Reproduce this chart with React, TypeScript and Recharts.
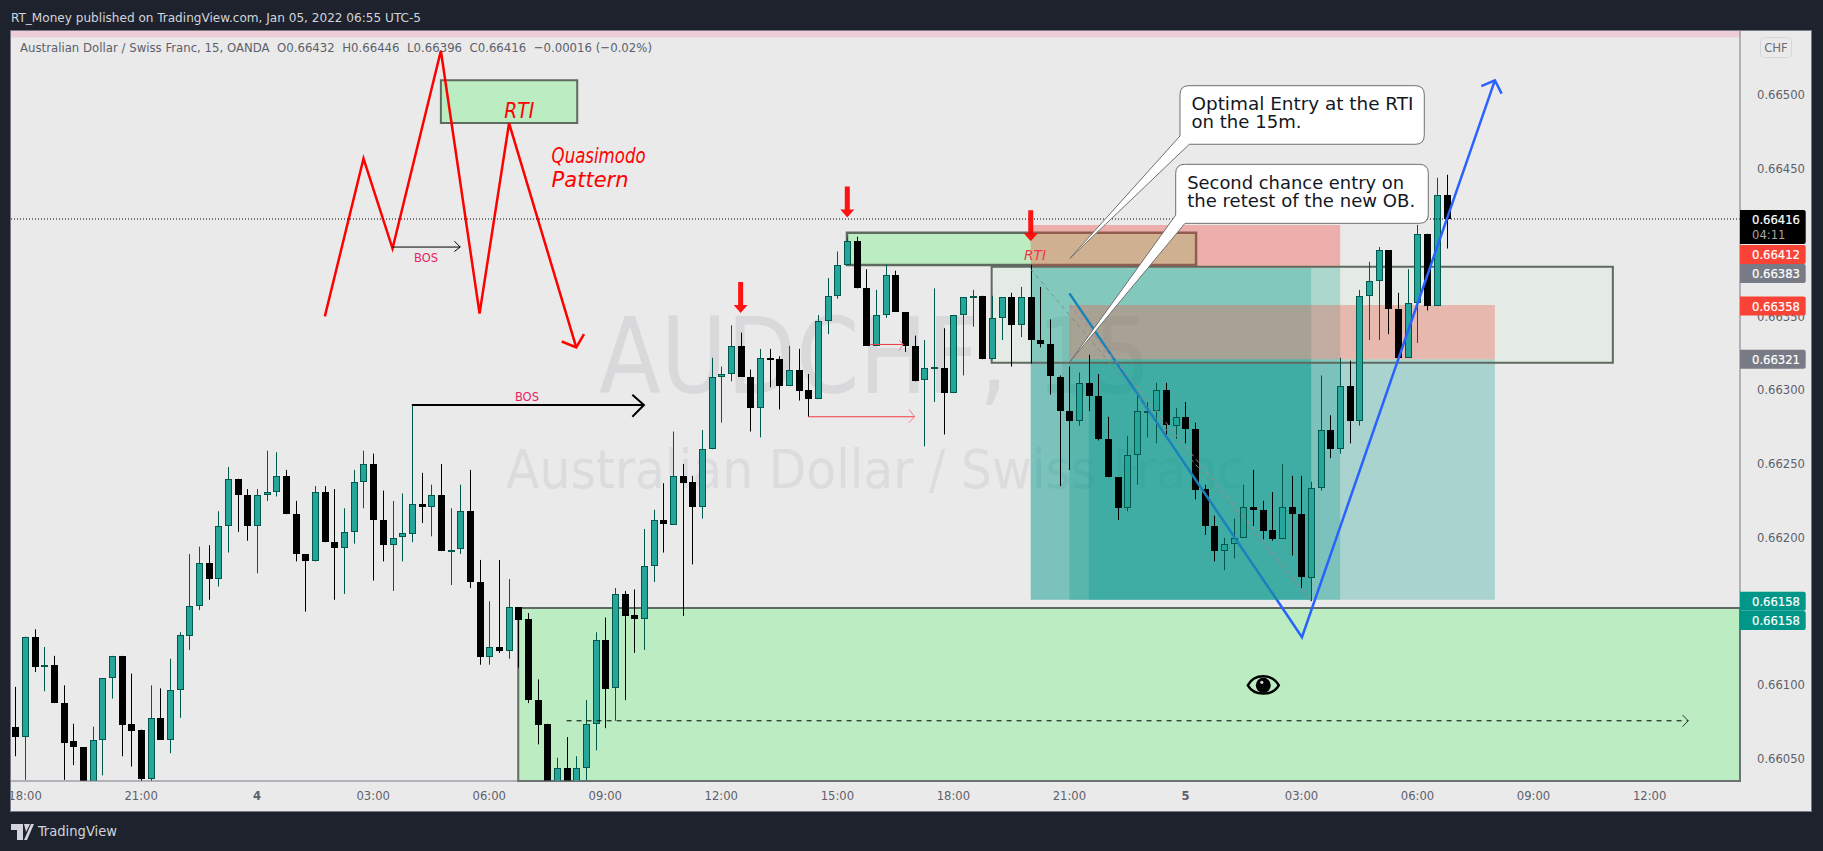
import { Bar, ComposedChart, Line, ReferenceArea, ReferenceDot, ReferenceLine, XAxis, YAxis } from 'recharts';

// prices are in pipettes: 66432 reads 0.66432 on the axis
const opens = [
  66072, 66065, 66133, 66113, 66114, 66088, 66062, 66058, 66030, 66063, 66105, 66120, 66074, 66070, 66037,
  66078, 66063, 66097, 66134, 66154, 66183, 66172, 66208, 66240, 66229, 66208, 66229, 66231, 66242, 66216,
  66189, 66184, 66231, 66197, 66193, 66204, 66238, 66250, 66212, 66195, 66200, 66203, 66223, 66221, 66229,
  66191, 66192, 66218, 66170, 66119, 66126, 66123, 66153, 66145, 66090, 66074, 66030, 66044, 66030, 66044,
  66074, 66131, 66098, 66162, 66148, 66145, 66181, 66212, 66209, 66242, 66238, 66221, 66260, 66309, 66311,
  66330, 66309, 66288, 66322, 66321, 66303, 66314, 66300, 66294, 66347, 66364, 66385, 66401, 66369, 66330,
  66351, 66378, 66353, 66330, 66307, 66315, 66315, 66298, 66351, 66363, 66364, 66321, 66349, 66363, 66344,
  66363, 66334, 66331, 66309, 66286, 66279, 66305, 66296, 66267, 66241, 66220, 66256, 66286, 66286, 66300,
  66276, 66282, 66274, 66233, 66208, 66191, 66196, 66200, 66221, 66219, 66205, 66199, 66221, 66216, 66173,
  66234, 66273, 66260, 66303, 66279, 66364, 66374, 66395, 66355, 66322, 66359, 66406, 66357, 66432,
];
const highs = [
  66099, 66133, 66138, 66126, 66120, 66100, 66074, 66058, 66072, 66105, 66120, 66120, 66108, 66070, 66100,
  66098, 66118, 66136, 66189, 66194, 66195, 66218, 66248, 66240, 66233, 66233, 66259, 66258, 66246, 66225,
  66189, 66235, 66235, 66233, 66220, 66246, 66259, 66257, 66232, 66225, 66230, 66290, 66244, 66236, 66250,
  66220, 66236, 66246, 66185, 66157, 66185, 66172, 66153, 66149, 66104, 66074, 66051, 66065, 66052, 66090,
  66136, 66146, 66166, 66164, 66165, 66206, 66219, 66237, 66272, 66250, 66242, 66273, 66322, 66316, 66344,
  66339, 66314, 66328, 66328, 66323, 66330, 66328, 66311, 66351, 66376, 66394, 66404, 66404, 66382, 66368,
  66385, 66381, 66353, 66337, 66334, 66369, 66342, 66351, 66363, 66368, 66364, 66364, 66363, 66366, 66370,
  66385, 66370, 66348, 66310, 66316, 66312, 66324, 66311, 66282, 66241, 66269, 66296, 66292, 66305, 66305,
  66288, 66292, 66278, 66236, 66215, 66200, 66213, 66236, 66246, 66225, 66231, 66250, 66242, 66242, 66238,
  66310, 66283, 66322, 66320, 66368, 66387, 66397, 66395, 66366, 66382, 66412, 66406, 66444, 66446,
];
const lows = [
  66052, 66036, 66109, 66096, 66088, 66036, 66046, 66025, 66026, 66039, 66091, 66052, 66045, 66035, 66035,
  66063, 66054, 66078, 66124, 66151, 66158, 66167, 66190, 66204, 66198, 66176, 66225, 66228, 66216, 66184,
  66150, 66184, 66197, 66158, 66162, 66196, 66220, 66171, 66184, 66164, 66184, 66197, 66210, 66201, 66191,
  66168, 66189, 66166, 66114, 66114, 66122, 66118, 66112, 66088, 66060, 66025, 66025, 66026, 66025, 66030,
  66056, 66071, 66076, 66090, 66122, 66124, 66170, 66190, 66209, 66147, 66182, 66213, 66260, 66278, 66306,
  66309, 66272, 66268, 66302, 66287, 66303, 66293, 66282, 66294, 66338, 66362, 66385, 66369, 66330, 66330,
  66349, 66353, 66326, 66306, 66262, 66292, 66270, 66298, 66310, 66343, 66321, 66321, 66334, 66316, 66336,
  66318, 66329, 66297, 66235, 66246, 66276, 66286, 66266, 66241, 66212, 66218, 66236, 66268, 66264, 66270,
  66267, 66264, 66226, 66202, 66184, 66178, 66186, 66200, 66208, 66199, 66198, 66199, 66188, 66166, 66157,
  66232, 66254, 66257, 66264, 66276, 66334, 66334, 66338, 66320, 66322, 66332, 66354, 66357, 66396,
];
const closes = [
  66065, 66133, 66113, 66114, 66088, 66061, 66058, 66030, 66063, 66105, 66120, 66073, 66069, 66037, 66078,
  66063, 66097, 66134, 66154, 66183, 66172, 66208, 66240, 66229, 66208, 66229, 66231, 66242, 66216, 66189,
  66184, 66231, 66197, 66193, 66204, 66238, 66250, 66212, 66195, 66200, 66203, 66223, 66221, 66229, 66191,
  66192, 66218, 66170, 66119, 66126, 66123, 66153, 66144, 66090, 66073, 66030, 66044, 66030, 66044, 66074,
  66131, 66098, 66162, 66147, 66145, 66181, 66212, 66209, 66242, 66237, 66221, 66260, 66309, 66311, 66330,
  66309, 66288, 66322, 66321, 66303, 66314, 66300, 66294, 66347, 66364, 66385, 66401, 66369, 66330, 66351,
  66378, 66353, 66330, 66306, 66315, 66316, 66298, 66351, 66363, 66364, 66321, 66349, 66363, 66344, 66363,
  66334, 66331, 66309, 66286, 66279, 66305, 66296, 66267, 66241, 66220, 66256, 66286, 66286, 66300, 66276,
  66282, 66274, 66233, 66208, 66191, 66196, 66200, 66221, 66219, 66205, 66199, 66221, 66216, 66173, 66234,
  66273, 66260, 66303, 66279, 66364, 66374, 66395, 66355, 66322, 66359, 66406, 66357, 66432, 66416,
];
const candles = opens.map((open, i) => ({
  t: i,
  open,
  high: highs[i],
  low: lows[i],
  close: closes[i],
  range: [lows[i], highs[i]],
}));

const timeTicks = [1, 13, 25, 37, 49, 61, 73, 85, 97, 109, 121, 133, 145, 157, 169];
const timeLabels = ['18:00', '21:00', '4', '03:00', '06:00', '09:00', '12:00', '15:00', '18:00', '21:00', '5', '03:00', '06:00', '09:00', '12:00'];
const priceTicks = [66050, 66100, 66200, 66250, 66300, 66350, 66450, 66500];

const T_MIN = -0.56;
const T_MAX = 178.35;
const P_MIN = 66035.2;
const P_MAX = 66543.4;

const FONT = '"DejaVu Sans", sans-serif';
const COND = '"DejaVu Sans Condensed", "DejaVu Sans", sans-serif';
const TEAL = 'rgba(0,150,136,0.28)';
const RED_ZONE = 'rgba(244,67,54,0.35)';
const RED = '#ff0000';
const BOX = '#5f6a60';
const ZONE_GREEN = '#bcedc2';

// zones, as [t1, t2, p1, p2]
const tealZones = [
  [105, 137, 66158, 66382.8],
  [105, 134, 66158, 66382.8],
  [109, 153, 66158, 66321],
  [111, 134, 66158, 66321],
];
const redZones = [
  [105, 137, 66382.8, 66411.9],
  [109, 153, 66321, 66357.7],
];

// drawn polylines, as [t, price] pairs
const drawings = [
  { id: 'quasimodo', color: RED, width: 2.5, points: [[32, 66350], [36, 66457], [39, 66396], [44, 66530], [48, 66352], [51.05, 66481], [58, 66329]] },
  { id: 'quasimodoHead', color: RED, width: 2.5, points: [[56.5, 66333], [58, 66329], [58.8, 66338]] },
  { id: 'bosSmall', color: '#000000', width: 1, points: [[39, 66397], [46, 66397]] },
  { id: 'bosSmallHead', color: '#000000', width: 1, points: [[45.4, 66401], [46, 66397], [45.4, 66394]] },
  { id: 'bosLarge', color: '#000000', width: 2, points: [[41, 66290], [65, 66290]] },
  { id: 'bosLargeHead', color: '#000000', width: 2, points: [[63.8, 66297], [65, 66290], [63.8, 66282]] },
  { id: 'lowerRed', color: '#f23645', width: 1, points: [[82, 66282], [93, 66282]] },
  { id: 'lowerRedHead', color: '#f77c80', width: 1, points: [[92.4, 66287], [93, 66282], [92.4, 66278]] },
  { id: 'upperRed', color: '#f23645', width: 1, points: [[88.4, 66331], [91.8, 66331]] },
  { id: 'upperRedHead', color: '#f77c80', width: 1, points: [[91.4, 66334], [91.8, 66331], [91.4, 66327]] },
  { id: 'target', color: '#000000', width: 1, dash: '5 5', points: [[57, 66076], [173, 66076]] },
  { id: 'targetHead', color: '#333333', width: 1, points: [[172.4, 66080], [173, 66076], [172.4, 66072]] },
  { id: 'forecastFall', color: '#1a82bb', width: 2.5, points: [[109, 66365.6], [130.45, 66158]] },
  { id: 'forecast', color: '#2962ff', width: 2.5, points: [[130.45, 66158], [133.05, 66132.6], [153, 66510]] },
  { id: 'forecastHead', color: '#2962ff', width: 2.5, points: [[151.6, 66506], [153, 66510], [153.7, 66501]] },
  { id: 'diagonalGrey', color: '#6f8f8b', width: 1, dash: '4 4', points: [[105, 66382], [134, 66157]] },
  { id: 'diagonalRed', color: '#b5808a', width: 1, dash: '4 4', points: [[109, 66358], [134, 66158]] },
];

const lineData = (points: number[][]) => points.map(([t, p]) => ({ t, p }));

// tag position on the axis, and the text it shows
const priceTags = [
  { p: 66392, text: '0.66412', fill: '#f94336' },
  { p: 66379, text: '0.66383', fill: '#787b86' },
  { p: 66357, text: '0.66358', fill: '#f94336' },
  { p: 66321, text: '0.66321', fill: '#787b86' },
  { p: 66157, text: '0.66158', fill: '#009688' },
  { p: 66144, text: '0.66158', fill: '#009688' },
];

function Candle(props: any) {
  const { x, y, width, height, payload } = props;
  const up = payload.close >= payload.open;
  const span = payload.high - payload.low || 1;
  const perPoint = height / span;
  const top = y + (payload.high - Math.max(payload.open, payload.close)) * perPoint;
  const bottom = y + (payload.high - Math.min(payload.open, payload.close)) * perPoint;
  const cx = Math.round(x + width / 2);
  if (up) {
    return (
      <g>
        <rect x={cx} y={y} width={1} height={height} fill="#00574b" />
        <rect x={cx - 2.5} y={Math.round(top) + 0.5} width={6} height={Math.max(Math.round(bottom - top) - 1, 1)} fill="#26a69a" stroke="#00574b" strokeWidth={1} />
      </g>
    );
  }
  return (
    <g>
      <rect x={cx} y={y} width={1} height={height} fill="#000000" />
      <rect x={cx - 3} y={Math.round(top)} width={7} height={Math.max(Math.round(bottom - top), 2)} fill="#000000" />
    </g>
  );
}

function TimeTick(props: any) {
  const { x, y, payload } = props;
  const label = timeLabels[timeTicks.indexOf(payload.value)];
  const isDay = label.length === 1;
  return (
    <text x={x} y={y + 11} textAnchor="middle" fontFamily={FONT} fontSize={11.6} fontWeight={isDay ? 700 : 400} fill="#5d606b">
      {label}
    </text>
  );
}

const downArrow = (props: any) => (
  <path d={`M${props.cx - 2.5} ${props.cy - 31}h5v23h4.5l-7 8l-7 -8h4.5z`} fill="#ff0000" fillOpacity={0.92} />
);

const note = (text: string, size: number, color: string, length: number) => (props: any) => (
  <text x={props.cx} y={props.cy} textAnchor="start" fontFamily={COND} fontSize={size} fontStyle="italic" fill={color} textLength={length} lengthAdjust="spacingAndGlyphs">
    {text}
  </text>
);

const bosLabel = (props: any) => (
  <text x={props.cx} y={props.cy} textAnchor="middle" fontFamily={FONT} fontSize={11.5} fill="#e91e63">
    BOS
  </text>
);

const callout = (dx: number, dy: number, w: number, h: number, tailA: number, tailB: number, lines: string[], widths: number[]) => (props: any) => {
  const x = props.cx + dx;
  const y = props.cy + dy;
  const r = 9;
  const d = [
    `M${x + r} ${y}`,
    `H${x + w - r}`,
    `Q${x + w} ${y} ${x + w} ${y + r}`,
    `V${y + h - r}`,
    `Q${x + w} ${y + h} ${x + w - r} ${y + h}`,
    `H${x + tailB}`,
    `L${props.cx} ${props.cy}`,
    `L${x} ${y + tailA}`,
    `V${y + r}`,
    `Q${x} ${y} ${x + r} ${y}`,
    'Z',
  ].join(' ');
  return (
    <g>
      <path d={d} fill="#ffffff" stroke="#6f6f6f" strokeWidth={1} />
      {lines.map((line, i) => (
        <text key={line} x={x + 11.5} y={y + 24.5 + i * 18} fontFamily={FONT} fontSize={17} fill="#131722" textLength={widths[i]} lengthAdjust="spacingAndGlyphs">
          {line}
        </text>
      ))}
    </g>
  );
};

const eye = (props: any) => (
  <g transform={`translate(${props.cx} ${props.cy})`}>
    <path d="M-15.5 0C-9 -12 9 -12 15.5 0C9 11 -9 11 -15.5 0Z" fill="none" stroke="#000000" strokeWidth={2.5} />
    <circle r={7.5} fill="#000000" />
    <circle cx={-1.5} cy={-3} r={1.6} fill="#cfd8d0" />
  </g>
);

const priceTag = (text: string, fill: string) => (props: any) => (
  <g>
    <path d={`M${props.cx} ${props.cy - 9.5}h63.7a2 2 0 0 1 2 2v15a2 2 0 0 1 -2 2h-63.7z`} fill={fill} />
    <text x={props.cx + 12} y={props.cy + 4.5} fontFamily={FONT} fontSize={11.6} fontWeight={500} fill="#ffffff" stroke="#ffffff" strokeWidth={0.2}>
      {text}
    </text>
  </g>
);

const lastPriceTag = (props: any) => (
  <g>
    <path d={`M${props.cx} ${props.cy - 17}h63.7a2 2 0 0 1 2 2v30a2 2 0 0 1 -2 2h-63.7z`} fill="#000000" />
    <text x={props.cx + 12} y={props.cy - 3} fontFamily={FONT} fontSize={11.6} fill="#ffffff" stroke="#ffffff" strokeWidth={0.2}>
      0.66416
    </text>
    <text x={props.cx + 12} y={props.cy + 12.5} fontFamily={FONT} fontSize={11.6} fill="#a6a6a6">
      04:11
    </text>
  </g>
);

export default function App() {
  return (
    <div style={{ position: 'fixed', left: 0, top: 0, width: 1823, height: 851, background: '#1e222d', overflow: 'hidden' }}>
      <svg width={1823} height={851} style={{ position: 'absolute', left: 0, top: 0 }}>
        <rect x={10.5} y={30.5} width={1801} height={781} fill="#eaeaea" stroke="#787b86" />
        <text x={11} y={22} fontFamily={COND} fontSize={13} fill="#d1d4dc" textLength={410} lengthAdjust="spacingAndGlyphs">
          RT_Money published on TradingView.com, Jan 05, 2022 06:55 UTC-5
        </text>
        <text x={599} y={393} fontFamily={COND} fontSize={106} fill="#d9d9db" textLength={552} lengthAdjust="spacingAndGlyphs">
          AUDCHF, 15
        </text>
        <text x={506} y={488} fontFamily={COND} fontSize={54} fill="#dcdcde" textLength={738} lengthAdjust="spacingAndGlyphs">
          Australian Dollar / Swiss Franc
        </text>
        <text x={20} y={52} fontFamily={COND} fontSize={13} fill="#5d606b" textLength={632} lengthAdjust="spacing" xmlSpace="preserve">
          Australian Dollar / Swiss Franc, 15, OANDA  O0.66432  H0.66446  L0.66396  C0.66416  −0.00016 (−0.02%)
        </text>
      </svg>
      <div style={{ position: 'absolute', left: 0, top: 0 }}>
        <ComposedChart width={1823} height={851} data={candles} margin={{ top: 31, right: 12, bottom: 40, left: 10 }}>
          <XAxis
            dataKey="t"
            type="number"
            domain={[T_MIN, T_MAX]}
            ticks={timeTicks}
            tick={<TimeTick />}
            tickLine={false}
            axisLine={{ stroke: '#787b86' }}
            height={30}
            allowDataOverflow
            interval={0}
          />
          <YAxis
            orientation="right"
            type="number"
            domain={[P_MIN, P_MAX]}
            ticks={priceTicks}
            tickFormatter={(v: number) => (v / 100000).toFixed(5)}
            tick={{ fill: '#5d606b', fontFamily: FONT, fontSize: 11.6 }}
            tickLine={false}
            tickMargin={11}
            axisLine={{ stroke: '#787b86' }}
            width={71}
            allowDataOverflow
            interval={0}
          />

          <ReferenceArea x1={T_MIN} x2={T_MAX} y1={66539} y2={P_MAX} fill="#edcdd8" fillOpacity={1} stroke="none" />
          <ReferenceArea x1={44} x2={58.1} y1={66481} y2={66510} fill={ZONE_GREEN} fillOpacity={1} stroke={BOX} strokeWidth={2} />
          <ReferenceArea x1={52} x2={T_MAX} y1={P_MIN} y2={66152.4} fill={ZONE_GREEN} fillOpacity={1} stroke={BOX} strokeWidth={2} />
          <ReferenceArea x1={86} x2={122.1} y1={66384.8} y2={66406.7} fill={ZONE_GREEN} fillOpacity={1} stroke={BOX} strokeWidth={2.5} />
          {tealZones.map(([t1, t2, p1, p2], i) => (
            <ReferenceArea key={`teal${i}`} x1={t1} x2={t2} y1={p1} y2={p2} fill={TEAL} fillOpacity={1} stroke="none" />
          ))}
          {redZones.map(([t1, t2, p1, p2], i) => (
            <ReferenceArea key={`red${i}`} x1={t1} x2={t2} y1={p1} y2={p2} fill={RED_ZONE} fillOpacity={1} stroke="none" />
          ))}
          <ReferenceArea x1={100.96} x2={165.2} y1={66318.6} y2={66383.7} fill="rgba(190,238,195,0.14)" fillOpacity={1} stroke={BOX} strokeWidth={2} />

          {drawings.map((d) => (
            <Line
              key={d.id}
              data={lineData(d.points)}
              dataKey="p"
              type="linear"
              stroke={d.color}
              strokeWidth={d.width}
              strokeDasharray={d.dash}
              dot={false}
              activeDot={false}
              isAnimationActive={false}
              legendType="none"
            />
          ))}

          <Bar dataKey="range" barSize={7} shape={<Candle />} isAnimationActive={false} />

          <ReferenceDot x={50.55} y={66484.4} r={0} shape={note('RTI', 22, RED, 30)} />
          <ReferenceDot x={55.45} y={66454} r={0} shape={note('Quasimodo', 22, RED, 94)} />
          <ReferenceDot x={55.45} y={66438} r={0} shape={note('Pattern', 22, RED, 77)} />
          <ReferenceDot x={104.3} y={66388} r={0} shape={note('RTI', 14.5, '#f23645', 22)} />
          <ReferenceDot x={42.46} y={66387} r={0} shape={bosLabel} />
          <ReferenceDot x={52.9} y={66293} r={0} shape={bosLabel} />
          <ReferenceDot x={75} y={66352.3} r={0} shape={downArrow} />
          <ReferenceDot x={86.03} y={66417.1} r={0} shape={downArrow} />
          <ReferenceDot x={105} y={66401} r={0} shape={downArrow} />
          <ReferenceDot x={129.05} y={66100} r={0} shape={eye} />

          <ReferenceDot
            x={109.06}
            y={66389.4}
            r={0}
            shape={callout(110, -172.6, 244.3, 58.6, 50.3, 9.3, ['Optimal Entry at the RTI', 'on the 15m.'], [222, 110])}
          />
          <ReferenceDot
            x={109.06}
            y={66319.3}
            r={0}
            shape={callout(105.7, -197.4, 252.6, 59, 50.7, 9.3, ['Second chance entry on', 'the retest of the new OB.'], [217, 228])}
          />

          <ReferenceLine y={66416} stroke="#000000" strokeDasharray="1 2" strokeWidth={1} />
        </ComposedChart>
      </div>
      {/* second chart on the same scales, so the price tags sit above the axis labels */}
      <div style={{ position: 'absolute', left: 0, top: 0 }}>
        <ComposedChart width={1823} height={851} data={candles} margin={{ top: 31, right: 83, bottom: 70, left: 10 }}>
          <XAxis dataKey="t" type="number" domain={[T_MIN, T_MAX]} hide allowDataOverflow />
          <YAxis type="number" domain={[P_MIN, P_MAX]} hide allowDataOverflow />
          {priceTags.map((tag) => (
            <ReferenceDot key={`${tag.p}`} x={T_MAX} y={tag.p} r={0} ifOverflow="visible" shape={priceTag(tag.text, tag.fill)} />
          ))}
          <ReferenceDot x={T_MAX} y={66410.6} r={0} ifOverflow="visible" shape={lastPriceTag} />
        </ComposedChart>
      </div>
      <svg width={1823} height={851} style={{ position: 'absolute', left: 0, top: 0, pointerEvents: 'none' }}>
        <rect x={0} y={30} width={10} height={800} fill="#1e222d" />
        <line x1={10.5} y1={30} x2={10.5} y2={812} stroke="#787b86" />
        <rect x={1760.5} y={37.5} width={31} height={20} rx={4} fill="#eaeaea" stroke="#d6d6dc" />
        <text x={1776} y={52} textAnchor="middle" fontFamily={COND} fontSize={13} fill="#6a6d78">
          CHF
        </text>
        <path d="M11 824h12v16h-6v-10h-6z M24 824h6l-4 8z M31 824h3l-7 16h-3z" fill="#d1d4dc" />
        <text x={38} y={836} fontFamily={COND} fontSize={14} fill="#d1d4dc" textLength={79} lengthAdjust="spacingAndGlyphs">
          TradingView
        </text>
      </svg>
    </div>
  );
}
